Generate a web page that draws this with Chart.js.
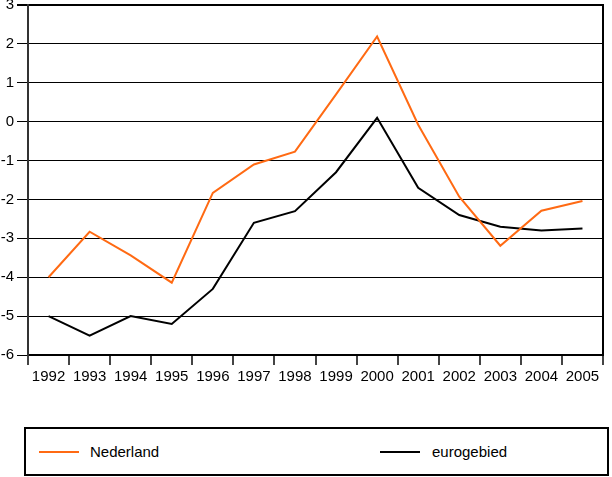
<!DOCTYPE html>
<html>
<head>
<meta charset="utf-8">
<script src="https://cdn.jsdelivr.net/npm/chart.js@4"></script>
<style>
  body { margin: 0; background: #fff; font-family: "Liberation Sans", Arial, sans-serif; }
  #wrap { position: relative; width: 612px; height: 477px; }
  #legend {
    position: absolute; left: 24px; top: 427px; width: 581px; height: 45px;
    border: 2px solid #000; font-size: 15px;
  }
  .item { position: absolute; top: 14px; line-height: 17px; }
  .swatch { position: absolute; top: 22px; width: 40px; height: 2px; }
</style>
</head>
<body>
<div id="wrap">
  <canvas id="chart" width="612" height="389"></canvas>
  <div id="legend">
    <div class="swatch" style="left:13px;background:#ff6a13"></div>
    <div class="item" style="left:64px">Nederland</div>
    <div class="swatch" style="left:354px;background:#000"></div>
    <div class="item" style="left:406px">eurogebied</div>
  </div>
</div>
<script>
// values
const years = ['1992', '1993', '1994', '1995', '1996', '1997', '1998', '1999', '2000', '2001', '2002', '2003', '2004', '2005'];
const nederland = [-4.0, -2.83, -3.44, -4.14, -1.83, -1.1, -0.77, 0.7, 2.19, -0.08, -1.93, -3.19, -2.29, -2.04];
const eurogebied = [-5.0, -5.5, -5.0, -5.2, -4.3, -2.6, -2.3, -1.3, 0.1, -1.7, -2.4, -2.7, -2.8, -2.75];

const ctx = document.getElementById('chart').getContext('2d');
new Chart(ctx, {
  type: 'line',
  data: {
    labels: years,
    datasets: [
      {
        label: 'Nederland',
        data: nederland,
        borderColor: '#ff6a13',
        borderWidth: 2,
        pointRadius: 0,
        tension: 0,
      },
      {
        label: 'eurogebied',
        data: eurogebied,
        borderColor: '#000',
        borderWidth: 2,
        pointRadius: 0,
        tension: 0,
      },
    ],
  },
  options: {
    responsive: false,
    animation: false,
    layout: { padding: { top: 5, right: 1, left: 0, bottom: 0 } },
    plugins: { legend: { display: false }, tooltip: { enabled: false } },
    scales: {
      x: {
        offset: true,
        grid: {
          offset: true,
          drawOnChartArea: false,
          tickLength: 10,
          color: '#444',
          lineWidth: 2,
        },
        border: { color: '#000', width: 2 },
        ticks: {
          color: '#000',
          padding: 3,
          maxRotation: 0,
          autoSkip: false,
          font: { family: 'Liberation Sans', size: 15 },
        },
      },
      y: {
        min: -6,
        max: 3,
        afterFit: (s) => { s.width = 28; s.paddingTop = 0; s.paddingBottom = 0; },
        grid: {
          color: '#000',
          lineWidth: (c) => (c.tick && c.tick.value === 3 ? 2 : 1),
          tickLength: 11,
        },
        border: { color: '#333', width: 2 },
        ticks: {
          stepSize: 1,
          color: '#000',
          padding: 3,
          font: { family: 'Liberation Sans', size: 15 },
        },
      },
      y2: {
        position: 'right',
        min: -6,
        max: 3,
        grid: { display: false },
        ticks: { display: false },
        border: { color: '#000', width: 2 },
      },
    },
  },
});
</script>
</body>
</html>
